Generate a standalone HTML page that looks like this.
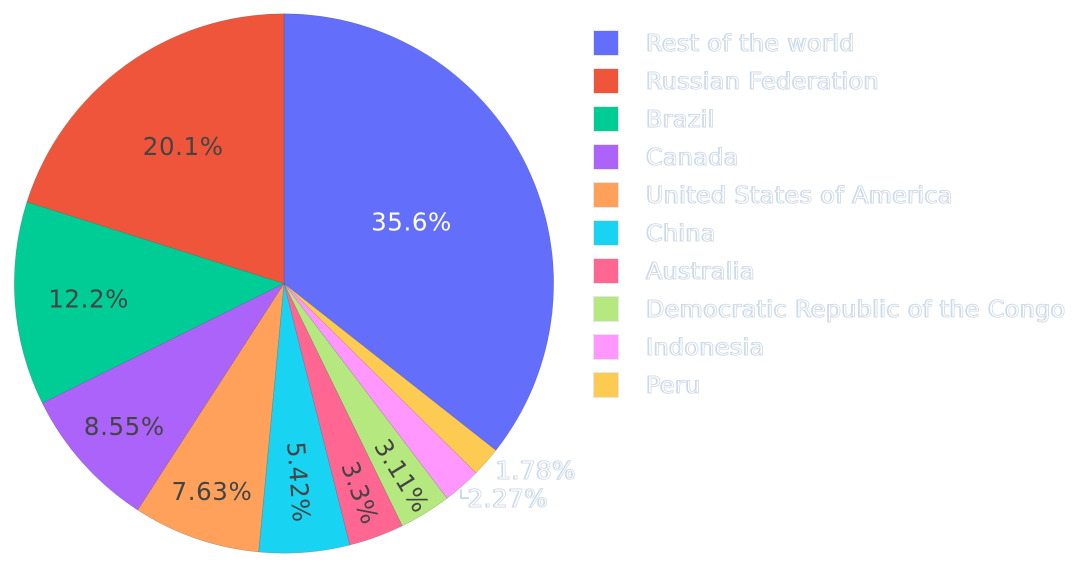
<!DOCTYPE html>
<html>
<head>
<meta charset="utf-8">
<style>
html,body{margin:0;padding:0;background:#fff;width:1076px;height:567px;overflow:hidden}
svg{display:block}
text{font-family:"DejaVu Sans",sans-serif}
.out{fill:#fff;stroke:#ced8e8;stroke-width:.7px;letter-spacing:.55px;filter:drop-shadow(-.4px 0 0 rgba(150,205,245,.5)) drop-shadow(.4px 0 0 rgba(240,205,170,.6))}
.in{letter-spacing:.6px}
</style>
</head>
<body>
<svg id="chart" width="1076" height="567" viewBox="0 0 1076 567" xmlns="http://www.w3.org/2000/svg"></svg>
<script>
const legendLabels = ["Rest of the world","Russian Federation","Brazil","Canada","United States of America","China","Australia","Democratic Republic of the Congo","Indonesia","Peru"];
const shares = [35.6,20.1,12.2,8.55,7.63,5.42,3.3,3.11,2.27,1.78];
const colors = ["#636EFA","#EF553B","#00CC96","#AB63FA","#FFA15A","#19D3F3","#FF6692","#B6E880","#FF97FF","#FECB52"];

const svg = document.getElementById('chart');
const NS = 'http://www.w3.org/2000/svg';
const cx = 284, cy = 283.5, R = 269.7;
const total = shares.reduce((a,b)=>a+b,0);

function pt(deg, r){
  const t = deg*Math.PI/180;
  return [cx + r*Math.sin(t), cy - r*Math.cos(t)];
}
function node(tag, attrs){
  const el = document.createElementNS(NS, tag);
  for (const k in attrs) el.setAttribute(k, attrs[k]);
  return el;
}

// Clockwise drawing order: first slice from 12 o'clock, the rest from smallest to largest.
const order = [0,9,8,7,6,5,4,3,2,1];
let angle = 0;
const labels = [];
order.forEach(function(i){
  const sweep = shares[i]/total*360;
  const a0 = angle, a1 = angle + sweep;
  const p0 = pt(a0,R), p1 = pt(a1,R);
  const d = 'M'+cx+' '+cy+'L'+p0[0]+' '+p0[1]+'A'+R+' '+R+' 0 '+(sweep>180?1:0)+' 1 '+p1[0]+' '+p1[1]+'Z';
  const slice = node('path',{d:d,fill:colors[i],stroke:'#444','stroke-width':'0.2'});
  
  
  svg.appendChild(slice);
  labels.push({i:i, mid:(a0+a1)/2});
  angle = a1;
});

labels.forEach(function(l){
  const v = shares[l.i];
  const str = v + '%';
  const logv = Math.log(v);
  let t;
  if (v < 2.5) {
    const rim = pt(l.mid, R);
    const rank = shares.length - 1 - l.i;
    const dx = rank === 0 ? 9.5 : 6;
    const dy = rank === 0 ? 8 : 12;
    t = node('text',{x:rim[0]+dx,y:rim[1]+dy+9,'font-size':'24.5','text-anchor':'start','class':'out'});
    if (rank > 0) {
      const leader = node('path',{d:'M'+(rim[0]-1)+' '+(rim[1]+3)+'v9h8',fill:'none',stroke:'#c4ccd8','stroke-width':'1.5'});
      
      
      svg.appendChild(leader);
    }
  } else if (v < 6) {
    const r = R*(1.036 - 0.176*logv);
    const p = pt(l.mid, r);
    t = node('text',{x:p[0],y:p[1]+9,'font-size':'24.5','text-anchor':'middle',fill:'#444','class':'in',
      transform:'rotate('+(l.mid-90)+' '+p[0]+' '+p[1]+')'});
  } else {
    const r = R*(1.196 - 0.1877*logv);
    const p = pt(l.mid, r);
    t = node('text',{x:p[0],y:p[1]+9,'font-size':'24.5','text-anchor':'middle','class':'in',fill:l.i===0?'#fff':'#444'});
  }
  t.textContent = str;
  
  
  svg.appendChild(t);
});

legendLabels.forEach(function(name,i){
  const y = 43 + 38*i;
  const g = node('g',{});
  
  
  const sw = node('rect',{x:593.5,y:y-12.5,width:25,height:25,fill:colors[i],stroke:'#e6e6e6','stroke-width':'1'});
  
  
  g.appendChild(sw);
  const t = node('text',{x:646.5,y:y+8,'font-size':'23.5','class':'out'});
  t.textContent = name;
  
  
  g.appendChild(t);
  svg.appendChild(g);
});
</script>
</body>
</html>
